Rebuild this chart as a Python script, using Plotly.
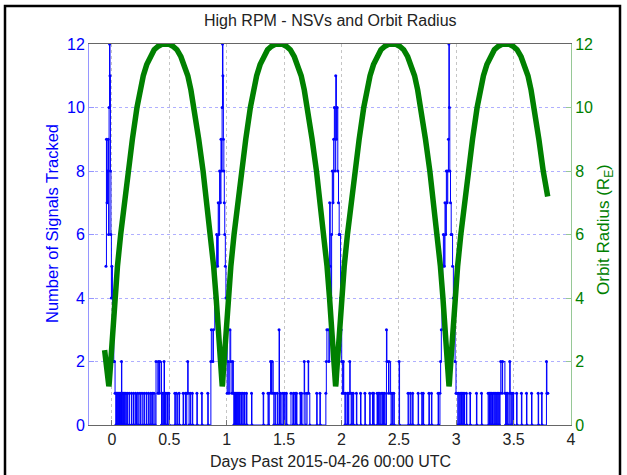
import plotly.graph_objects as go

# ---- Orbit radius (R_E) ----
orbit_days = [
    -0.064, -0.052, -0.042, -0.034, -0.029, -0.027,
    -0.024, -0.019, -0.011, 0.003, 0.023, 0.048, 0.076, 0.108, 0.140, 0.178, 0.218, 0.246, 0.273, 0.303,
    0.333, 0.368, 0.403, 0.435, 0.467, 0.499, 0.531, 0.566, 0.601, 0.631, 0.661, 0.688, 0.716,
    0.756, 0.794, 0.826, 0.858, 0.886, 0.908, 0.927, 0.941, 0.949, 0.956, 0.961,
    0.964, 0.969, 0.977, 0.991, 1.011, 1.036, 1.064, 1.096, 1.128, 1.166, 1.206, 1.234, 1.261, 1.291,
    1.321, 1.356, 1.391, 1.423, 1.455, 1.487, 1.519, 1.554, 1.589, 1.619, 1.649, 1.676, 1.704,
    1.744, 1.782, 1.814, 1.846, 1.874, 1.896, 1.915, 1.929, 1.937, 1.944, 1.949,
    1.952, 1.957, 1.965, 1.979, 1.999, 2.024, 2.052, 2.084, 2.116, 2.154, 2.194, 2.222, 2.249, 2.279,
    2.309, 2.344, 2.379, 2.411, 2.443, 2.475, 2.507, 2.542, 2.577, 2.607, 2.637, 2.664, 2.692,
    2.732, 2.770, 2.802, 2.834, 2.862, 2.884, 2.903, 2.917, 2.925, 2.932, 2.937,
    2.940, 2.945, 2.953, 2.967, 2.987, 3.012, 3.040, 3.072, 3.104, 3.142, 3.182, 3.210, 3.237, 3.267,
    3.297, 3.332, 3.367, 3.399, 3.431, 3.463, 3.495, 3.530, 3.565, 3.595, 3.625, 3.652, 3.680,
    3.720, 3.758, 3.797,
]
orbit_radius = [
    2.36, 1.90, 1.55, 1.33, 1.25, 1.22,
    1.30, 1.6, 2.0, 2.9, 4.0, 5.0, 6.0, 7.0, 8.0, 9.0, 10.0, 10.55, 11.0, 11.35,
    11.6, 11.82, 11.93, 11.99, 12.0, 11.99, 11.93, 11.82, 11.6, 11.35, 11.0, 10.55, 10.0,
    9.0, 8.0, 7.0, 6.0, 5.0, 4.0, 2.9, 2.0, 1.6, 1.30, 1.22,
    1.30, 1.6, 2.0, 2.9, 4.0, 5.0, 6.0, 7.0, 8.0, 9.0, 10.0, 10.55, 11.0, 11.35,
    11.6, 11.82, 11.93, 11.99, 12.0, 11.99, 11.93, 11.82, 11.6, 11.35, 11.0, 10.55, 10.0,
    9.0, 8.0, 7.0, 6.0, 5.0, 4.0, 2.9, 2.0, 1.6, 1.30, 1.22,
    1.30, 1.6, 2.0, 2.9, 4.0, 5.0, 6.0, 7.0, 8.0, 9.0, 10.0, 10.55, 11.0, 11.35,
    11.6, 11.82, 11.93, 11.99, 12.0, 11.99, 11.93, 11.82, 11.6, 11.35, 11.0, 10.55, 10.0,
    9.0, 8.0, 7.0, 6.0, 5.0, 4.0, 2.9, 2.0, 1.6, 1.30, 1.22,
    1.30, 1.6, 2.0, 2.9, 4.0, 5.0, 6.0, 7.0, 8.0, 9.0, 10.0, 10.55, 11.0, 11.35,
    11.6, 11.82, 11.93, 11.99, 12.0, 11.99, 11.93, 11.82, 11.6, 11.35, 11.0, 10.55, 10.0,
    9.0, 8.0, 7.2,
]

# ---- Number of signals tracked (step series: value holds until next time) ----
sig_days = [
    # perigee pass 1
    -0.052, -0.048, -0.043, -0.038, -0.033, -0.029, -0.025, -0.021, -0.017, -0.013, -0.009, -0.005, -0.001,
    0.004, 0.010, 0.016, 0.022,
    # low activity 1
    0.027, 0.034, 0.036, 0.040, 0.043, 0.046, 0.050, 0.054, 0.058, 0.062, 0.066, 0.069, 0.074, 0.078,
    0.083, 0.086, 0.090, 0.094, 0.100, 0.104, 0.110, 0.114, 0.121, 0.125, 0.133, 0.137, 0.150, 0.154,
    0.170, 0.174, 0.188, 0.192, 0.206, 0.214, 0.225, 0.229, 0.244, 0.248, 0.262, 0.270, 0.281, 0.285,
    0.300, 0.304, 0.318, 0.330, 0.338, 0.342, 0.352, 0.356, 0.366, 0.376, 0.384, 0.400, 0.404, 0.414,
    0.418, 0.432, 0.438, 0.444, 0.450, 0.454, 0.458, 0.466, 0.470, 0.480, 0.484, 0.496, 0.500, 0.548,
    0.552, 0.560, 0.572, 0.585, 0.589, 0.620, 0.624, 0.640, 0.644, 0.652, 0.660, 0.664, 0.672, 0.682,
    0.686, 0.700, 0.704, 0.740, 0.744, 0.782, 0.786, 0.835, 0.839,
    # perigee pass 2
    0.862, 0.866, 0.880, 0.884, 0.896, 0.905, 0.912, 0.920, 0.926, 0.932, 0.938, 0.944, 0.950, 0.955,
    0.960, 0.963, 0.967, 0.971, 0.975, 0.979, 0.983, 0.988, 0.993, 0.998, 1.004, 1.012, 1.020, 1.028,
    1.035, 1.045, 1.052,
    # low activity 2
    1.058, 1.062, 1.066, 1.070, 1.073, 1.077, 1.082, 1.086, 1.092, 1.096, 1.101, 1.105, 1.112, 1.116,
    1.125, 1.129, 1.140, 1.144, 1.155, 1.159, 1.172, 1.176, 1.216, 1.220, 1.318, 1.322, 1.360, 1.366,
    1.370, 1.382, 1.390, 1.395, 1.405, 1.410, 1.420, 1.424, 1.440, 1.444, 1.456, 1.460, 1.470, 1.474,
    1.490, 1.494, 1.505, 1.509, 1.520, 1.524, 1.560, 1.576, 1.582, 1.586, 1.596, 1.600, 1.608, 1.612,
    1.640, 1.644, 1.652, 1.656, 1.675, 1.679, 1.690, 1.700, 1.710, 1.714, 1.724, 1.784, 1.788, 1.812,
    1.816,
    # perigee pass 3
    1.864, 1.868, 1.873, 1.884, 1.890, 1.897, 1.902, 1.908, 1.914, 1.920, 1.926, 1.932, 1.938, 1.944,
    1.950, 1.956, 1.962, 1.968, 1.974, 1.980, 1.986, 1.992, 1.997, 2.002, 2.008, 2.016,
    # low activity 3
    2.020, 2.030, 2.034, 2.048, 2.052, 2.060, 2.064, 2.072, 2.076, 2.084, 2.090, 2.094, 2.102, 2.106,
    2.130, 2.134, 2.166, 2.170, 2.204, 2.208, 2.246, 2.250, 2.270, 2.274, 2.280, 2.284, 2.310, 2.314,
    2.322, 2.326, 2.334, 2.338, 2.352, 2.356, 2.362, 2.366, 2.376, 2.380, 2.392, 2.396, 2.410, 2.414,
    2.428, 2.432, 2.440, 2.444, 2.456, 2.460, 2.502, 2.506, 2.580, 2.586, 2.600, 2.606, 2.620, 2.624,
    2.668, 2.672, 2.700, 2.704, 2.712, 2.716, 2.762, 2.766, 2.784, 2.788, 2.842, 2.846,
    # perigee pass 4
    2.858, 2.864, 2.870, 2.876, 2.882, 2.888, 2.896, 2.902, 2.908, 2.914, 2.920, 2.926, 2.932, 2.936,
    2.940, 2.944, 2.950, 2.956, 2.962, 2.968, 2.975, 2.982, 2.990, 2.998,
    # low activity 4
    3.004, 3.014, 3.018, 3.030, 3.034, 3.040, 3.046, 3.052, 3.058, 3.062, 3.068, 3.072, 3.088, 3.092,
    3.120, 3.124, 3.176, 3.180, 3.220, 3.224, 3.278, 3.284, 3.290, 3.294, 3.300, 3.304, 3.310, 3.316,
    3.322, 3.330, 3.336, 3.340, 3.346, 3.352, 3.358, 3.364, 3.370, 3.376, 3.382, 3.388, 3.400, 3.404,
    3.424, 3.430, 3.436, 3.440, 3.448, 3.452, 3.466, 3.470, 3.476, 3.484, 3.488, 3.496, 3.500, 3.526,
    3.530, 3.568, 3.572, 3.612, 3.616, 3.656, 3.660, 3.714, 3.718, 3.744, 3.748, 3.786, 3.790, 3.798,
]
sig_counts = [
    5, 9, 7, 8, 9, 6, 10, 12, 11, 8, 6, 4, 5,
    3, 3, 2, 2,
    1, 0, 1, 0, 1, 0, 1, 0, 1, 0, 1, 0, 1, 0,
    2, 0, 1, 0, 1, 0, 1, 0, 1, 0, 1, 0, 1, 0,
    1, 0, 1, 0, 1, 0, 1, 0, 1, 0, 1, 0, 1, 0,
    1, 0, 1, 0, 1, 0, 1, 0, 1, 0, 2, 1, 2, 1,
    2, 0, 1, 0, 1, 2, 0, 1, 0, 1, 0, 1, 0, 1,
    0, 1, 0, 1, 0, 1, 0, 1, 0, 1, 2, 1, 0, 1,
    0, 1, 0, 1, 0, 1, 0, 1, 0,
    2, 3, 2, 3, 4, 5, 6, 5, 7, 6, 8, 7, 9, 8,
    10, 12, 11, 9, 8, 7, 6, 5, 4, 3, 1, 2, 1, 3,
    2, 1, 2,
    1, 0, 1, 0, 1, 0, 1, 0, 1, 0, 1, 0, 1, 0,
    1, 0, 1, 0, 1, 0, 1, 0, 1, 0, 1, 0, 1, 0,
    1, 2, 1, 2, 1, 0, 1, 0, 1, 0, 3, 0, 1, 0,
    1, 0, 1, 0, 1, 0, 1, 0, 1, 0, 1, 0, 1, 0,
    1, 0, 1, 0, 2, 1, 0, 1, 2, 1, 0, 1, 0, 1,
    0,
    1, 2, 3, 3, 2, 7, 5, 4, 6, 8, 7, 9, 10, 8,
    11, 9, 10, 8, 7, 6, 6, 4, 3, 2, 1, 2,
    1, 0, 1, 0, 1, 0, 1, 2, 1, 0, 1, 0, 1, 0,
    1, 0, 1, 0, 1, 0, 1, 0, 1, 0, 1, 0, 1, 0,
    1, 0, 1, 0, 1, 0, 1, 0, 1, 0, 3, 2, 1, 2,
    1, 0, 1, 0, 1, 0, 2, 0, 1, 0, 1, 0, 1, 0,
    1, 0, 1, 0, 1, 0, 1, 0, 1, 0, 1, 0,
    1, 2, 3, 4, 5, 6, 5, 7, 6, 8, 7, 8, 9, 12,
    10, 8, 7, 6, 6, 5, 4, 3, 2, 1,
    1, 0, 1, 0, 1, 0, 1, 0, 1, 0, 1, 0, 1, 0,
    1, 0, 1, 0, 1, 0, 1, 0, 1, 0, 1, 0, 1, 0,
    1, 0, 1, 0, 1, 0, 1, 0, 1, 0, 1, 2, 1, 2,
    1, 0, 1, 0, 1, 0, 2, 1, 0, 1, 0, 1, 0, 1,
    0, 1, 0, 1, 0, 1, 0, 1, 0, 1, 0, 2, 1, 1,
]

x_ticks = [0, 0.5, 1, 1.5, 2, 2.5, 3, 3.5, 4]
y_ticks = [0, 2, 4, 6, 8, 10, 12]

BLUE = "rgb(0,0,255)"
GREEN = "rgb(0,128,0)"
FONT = "Liberation Sans, Arial, Helvetica, sans-serif"

fig = go.Figure()
fig.add_trace(go.Scatter(
    x=sig_days, y=sig_counts, mode="lines+markers", line_shape="hv",
    line=dict(color=BLUE, width=1), marker=dict(color=BLUE, size=3),
    yaxis="y", showlegend=False,
))
fig.add_trace(go.Scatter(
    x=orbit_days, y=orbit_radius, mode="lines",
    line=dict(color=GREEN, width=5.5),
    yaxis="y2", showlegend=False,
))

L, R, T, B = 89, 56, 44, 50
W, H = 627, 475
pw, ph = W - L - R, H - T - B

def px_x(p):
    return (p - L) / pw

def px_y(p):
    return (H - B - p) / ph

fig.update_layout(
    width=W, height=H,
    margin=dict(l=L, r=R, t=T, b=B, pad=0),
    paper_bgcolor="white", plot_bgcolor="white",
    font=dict(family=FONT, size=16, color="#222"),
    xaxis=dict(
        range=[-0.2, 4], tickvals=x_ticks, ticktext=[f"{v:g}" for v in x_ticks],
        showgrid=True, gridcolor="rgba(150,150,150,0.55)", griddash="dot", gridwidth=1,
        showline=True, linecolor="#666", linewidth=1, mirror=True,
        ticks="inside", ticklen=5, tickcolor="#777",
        tickfont=dict(size=16, color="#222"), zeroline=False,
    ),
    yaxis=dict(
        range=[0, 12], tickvals=y_ticks,
        showgrid=True, gridcolor="rgba(110,110,255,0.55)", griddash="dot", gridwidth=1,
        showline=True, linecolor="rgb(150,150,255)", linewidth=1,
        ticks="inside", ticklen=5, tickcolor="rgb(150,150,255)",
        tickfont=dict(size=16, color=BLUE), zeroline=False,
    ),
    yaxis2=dict(
        range=[0, 12], tickvals=y_ticks, overlaying="y", side="right",
        showgrid=False, showline=True, linecolor="rgb(150,200,150)", linewidth=1,
        ticks="inside", ticklen=5, tickcolor="rgb(150,200,150)",
        tickfont=dict(size=16, color=GREEN), zeroline=False,
    ),
    annotations=[
        dict(text="High RPM - NSVs and Orbit Radius", xref="paper", yref="paper",
             x=px_x(330), y=px_y(21), xanchor="center", yanchor="middle",
             showarrow=False, font=dict(size=16, color="#222")),
        dict(text="Days Past 2015-04-26 00:00 UTC", xref="paper", yref="paper",
             x=px_x(330), y=px_y(461), xanchor="center", yanchor="middle",
             showarrow=False, font=dict(size=16, color="#222")),
        dict(text="Number of Signals Tracked", xref="paper", yref="paper",
             x=px_x(52), y=px_y(224), xanchor="center", yanchor="middle",
             textangle=-90, showarrow=False, font=dict(size=16.5, color=BLUE)),
        dict(text="Orbit Radius (R<sub>E</sub>)", xref="paper", yref="paper",
             x=px_x(605), y=px_y(230), xanchor="center", yanchor="middle",
             textangle=-90, showarrow=False, font=dict(size=17, color=GREEN)),
    ],
    shapes=[
        dict(type="rect", xref="paper", yref="paper",
             x0=px_x(5), x1=px_x(620), y0=px_y(490), y1=px_y(6),
             line=dict(color="black", width=2.5), fillcolor="rgba(0,0,0,0)", layer="above"),
    ],
)

fig.write_html("out.html")
